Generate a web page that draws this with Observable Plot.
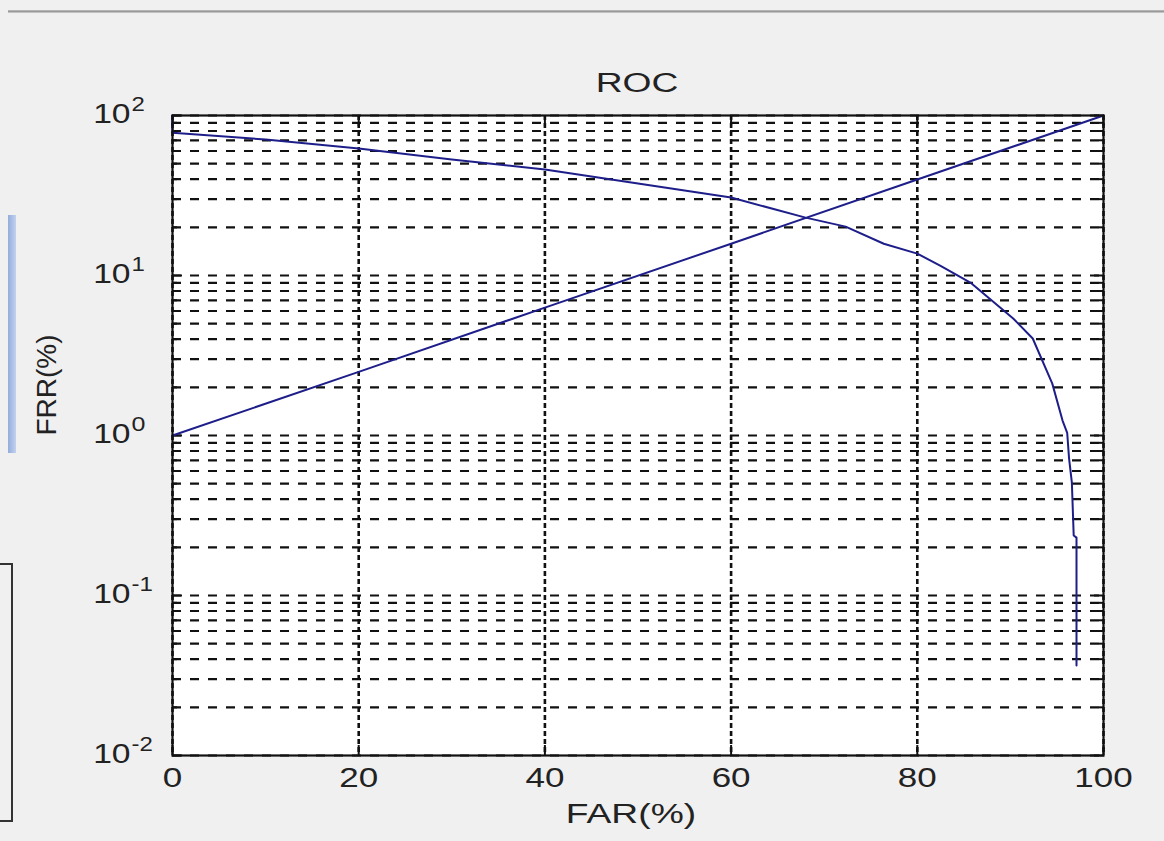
<!DOCTYPE html>
<html>
<head>
<meta charset="utf-8">
<script src="https://cdn.jsdelivr.net/npm/d3@7"></script>
<script src="https://cdn.jsdelivr.net/npm/@observablehq/plot@0.6"></script>
<style>
html, body { margin: 0; padding: 0; background: #f0f0f0; }
#wrap { position: relative; width: 1164px; height: 841px; overflow: hidden; background: #f0f0f0; }
#chart { position: absolute; left: 0; top: 0; }
.deco { position: absolute; }
</style>
</head>
<body>
<div id="wrap">
  <div class="deco" style="left:8px;top:10px;width:1156px;height:3px;background:linear-gradient(#c0c0c0,#9a9a9a,#d6d6d6);"></div>
  <div class="deco" style="left:8px;top:215px;width:8px;height:238px;background:linear-gradient(90deg,#93aedc,#c2d1ee);"></div>
  <div class="deco" style="left:0;top:563px;width:11px;height:255px;border:2px solid #333;border-left:none;"></div>
  <div id="chart"></div>
</div>
<script>
// ---- data ----
const titleText = "ROC";
const xLabel = "FAR(%)";
const yLabel = "FRR(%)";

// rising line (FAR %, FRR %)
const riseFar = [0, 20, 40, 60, 80, 100];
const riseFrr = [1, 2.5, 6.3, 15.8, 39.8, 100];

// falling curve (FAR %, FRR %)
const curveFar = [0, 0, 10, 20, 30, 40, 50, 60, 68, 72.3, 76.4, 80, 82.5, 85.7, 90.3, 92.4, 94.5, 95.6, 96.1, 96.3, 96.6, 96.8, 97.1, 97.1];
const curveFrr = [100, 78, 70.8, 62.2, 53.1, 46, 37.6, 30.7, 23, 20.2, 15.8, 13.7, 11.5, 9.04, 5.39, 4.04, 2.11, 1.24, 1.04, 0.72, 0.51, 0.237, 0.23, 0.0365];

// ticks
const xTicks = [0, 20, 40, 60, 80, 100];
const yMajor = [0.01, 0.1, 1, 10, 100];
const yExponents = ["-2", "-1", "0", "1", "2"];
const yMinorMultipliers = [2, 3, 4, 5, 6, 7, 8, 9];

// ---- build tables ----
const riseData = riseFar.map((x, i) => ({x, y: riseFrr[i]}));
const curveData = curveFar.map((x, i) => ({x, y: curveFrr[i]}));
const yMinor = yMajor.slice(0, -1).flatMap(d => yMinorMultipliers.map(m => +(m * d).toPrecision(3)));
const yGrid = [...yMajor, ...yMinor];
const yLabels = yMajor.map((v, i) => ({v, e: yExponents[i]}));

const font = "Arial, 'Liberation Sans', Helvetica, sans-serif";
const lineColor = "#1e1e8a";

const chart = Plot.plot({
  width: 1164,
  height: 841,
  marginLeft: 172,
  marginRight: 61,
  marginTop: 115,
  marginBottom: 86,
  style: {background: "transparent", fontFamily: font, color: "#111", overflow: "visible"},
  x: {domain: [0, 100], axis: null},
  y: {type: "log", domain: [0.01, 100], axis: null},
  marks: [
    Plot.frame({fill: "white", stroke: null}),
    Plot.gridY(yGrid, {stroke: "#111", strokeOpacity: 1, strokeWidth: 2.2, strokeDasharray: "9,9"}),
    Plot.gridX(xTicks, {stroke: "#111", strokeOpacity: 1, strokeWidth: 2.6, strokeDasharray: "5,3"}),
    Plot.axisY(yMajor, {anchor: "left", tickSize: -10, tickFormat: () => "", label: null, strokeWidth: 2}),
    Plot.axisY(yMajor, {anchor: "right", tickSize: -10, tickFormat: () => "", label: null, strokeWidth: 2}),
    Plot.axisY(yMinor, {anchor: "left", tickSize: -5, tickFormat: () => "", label: null, strokeWidth: 2}),
    Plot.axisY(yMinor, {anchor: "right", tickSize: -5, tickFormat: () => "", label: null, strokeWidth: 2}),
    Plot.axisX(xTicks, {anchor: "bottom", tickSize: -10, tickFormat: () => "", label: null, strokeWidth: 2}),
    Plot.axisX(xTicks, {anchor: "top", tickSize: -10, tickFormat: () => "", label: null, strokeWidth: 2}),
    Plot.line(riseData, {x: "x", y: "y", stroke: lineColor, strokeWidth: 2}),
    Plot.line(curveData, {x: "x", y: "y", stroke: lineColor, strokeWidth: 2}),
    Plot.frame({stroke: "#111", strokeWidth: 2.2}),
    // tick labels
    Plot.text(xTicks, {x: d => d, frameAnchor: "bottom", lineAnchor: "middle", dy: 23, text: d => String(d), fontSize: 28, fill: "#222"}),
    Plot.text(yLabels, {y: "v", frameAnchor: "left", lineAnchor: "middle", dx: -42, dy: -1, textAnchor: "end", text: () => "10", fontSize: 28, fill: "#222"}),
    Plot.text(yLabels, {y: "v", frameAnchor: "left", lineAnchor: "middle", dx: -41, dy: -11, textAnchor: "start", text: "e", fontSize: 20, fill: "#222"}),
    // titles
    Plot.text([titleText], {frameAnchor: "top", lineAnchor: "middle", dy: -32, dx: -1, fontSize: 28, fill: "#222"}),
    Plot.text([xLabel], {frameAnchor: "bottom", lineAnchor: "middle", dy: 59, dx: -7, fontSize: 28, fill: "#222"}),
    Plot.text([yLabel], {frameAnchor: "left", lineAnchor: "middle", dx: -125, rotate: -90, fontSize: 28, fill: "#222"})
  ]
});

// The reference picture is stretched horizontally; widen horizontal texts.
const xTickStrings = new Set(xTicks.map(String));
const expStrings = new Set(yExponents);
chart.querySelectorAll("text").forEach(t => {
  const s = t.textContent;
  let k = null;
  if (s === titleText || s === xLabel) k = 1.33;
  else if (xTickStrings.has(s)) k = 1.25;
  else if (s === "10" || expStrings.has(s)) k = 1.2;
  if (k == null) return;
  const tr = t.getAttribute("transform") || "";
  const xa = t.getAttribute("x");
  if (xa != null && isFinite(+xa)) t.setAttribute("x", +xa / k);
  t.setAttribute("transform", `${tr} scale(${k},1)`);
});

document.getElementById("chart").appendChild(chart);
</script>
</body>
</html>
